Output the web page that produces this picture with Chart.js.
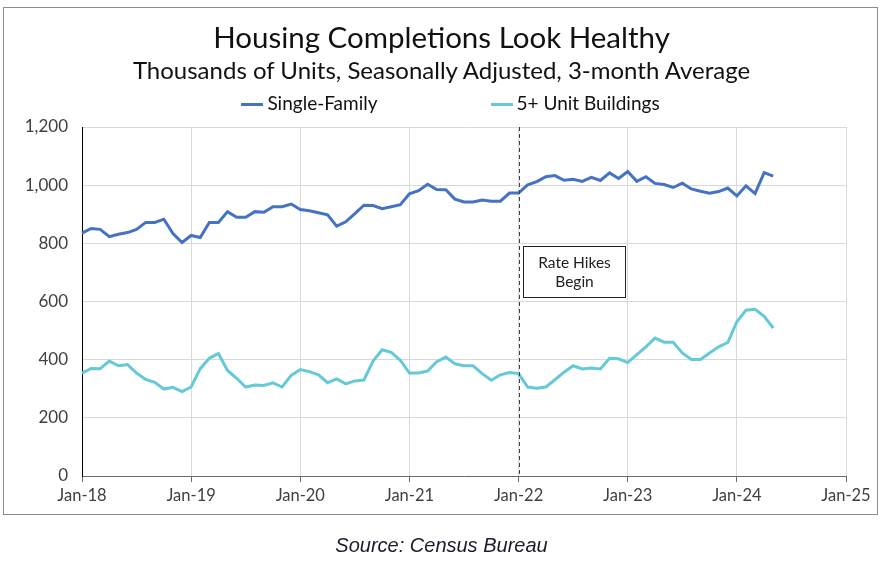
<!DOCTYPE html>
<html>
<head>
<meta charset="utf-8">
<script src="https://cdn.jsdelivr.net/npm/chart.js@4.4.0/dist/chart.umd.min.js"></script>
<style>
  body { margin: 0; background: #fff; }
  #wrap { position: relative; width: 883px; height: 574px; font-family: Lato, sans-serif; }
  #frame { position: absolute; left: 3px; top: 7px; width: 873px; height: 506px; border: 1px solid #8c8c8c; }
  canvas { position: absolute; left: 0; top: 0; }
  .txt { position: absolute; left: 0; width: 883px; text-align: center; color: #111; white-space: nowrap; }
  #title { top: 20px; font-size: 29.5px; line-height: 34px; }
  #subtitle { top: 56px; font-size: 24px; line-height: 28px; }
  #legend { top: 91px; font-size: 19px; line-height: 24px; padding-left: 18px; box-sizing: border-box; }
  .item { display: inline-block; }
  .item + .item { margin-left: 113px; }
  .swatch { display: inline-block; width: 22px; height: 3px; vertical-align: middle; margin-right: 4px; position: relative; top: -1px; }
  #source { top: 534px; font-family: "Liberation Sans", Arial, sans-serif; font-style: italic; font-size: 20px; line-height: 22px; color: #1b1b2b; }
</style>
</head>
<body>
<div id="wrap">
  <div id="frame"></div>
  <canvas id="chart" width="883" height="574"></canvas>
  <div class="txt" id="title">Housing Completions Look Healthy</div>
  <div class="txt" id="subtitle">Thousands of Units, Seasonally Adjusted, 3-month Average</div>
  <div class="txt" id="legend"></div>
  <div class="txt" id="source">Source: Census Bureau</div>
</div>
<script>
const monthNames = ['Jan', 'Feb', 'Mar', 'Apr', 'May', 'Jun', 'Jul', 'Aug', 'Sep', 'Oct', 'Nov', 'Dec'];
const years = ['18', '19', '20', '21', '22', '23', '24', '25'];

// Jan-18 .. May-24, thousands of units
const singleFamily = [835, 851, 848, 823, 831, 837, 848, 872, 872, 883,
    834, 803, 827, 820, 872, 872, 909, 890, 890, 909,
    907, 926, 926, 935, 916, 912, 905, 898, 859, 874,
    902, 931, 930, 919, 926, 933, 970, 981, 1003, 985,
    984, 952, 942, 942, 949, 945, 945, 973, 973, 1001,
    1012, 1029, 1033, 1017, 1020, 1013, 1027, 1016, 1042, 1023,
    1047, 1013, 1029, 1006, 1002, 992, 1007, 987, 979, 972,
    978, 990, 963, 998, 971, 1043, 1031];
const multiFamily = [354, 370, 369, 395, 379, 383, 354, 332, 322, 299,
    305, 290, 306, 369, 405, 421, 363, 336, 306, 313,
    311, 320, 306, 346, 366, 359, 348, 321, 334, 317,
    327, 330, 395, 434, 425, 398, 354, 354, 361, 393,
    409, 386, 379, 379, 352, 329, 348, 356, 352, 306,
    302, 306, 331, 357, 379, 368, 371, 368, 405, 403,
    390, 417, 444, 474, 460, 460, 423, 401, 401, 423,
    444, 459, 530, 570, 573, 549, 509];

const seriesNames = ['Single-Family', '5+ Unit Buildings'];
const seriesColors = ['#4472c4', '#66c9d6'];
const yTicks = [0, 200, 400, 600, 800, 1000, 1200];
const hikeMonth = 'Jan-22';
const hikeText = ['Rate Hikes', 'Begin'];

const labels = [];
years.forEach((y, i) => {
    monthNames.forEach(m => {
        if (i < years.length - 1 || m === 'Jan') labels.push(m + '-' + y);
    });
});

// html legend
const legendDiv = document.getElementById('legend');
seriesNames.forEach((name, i) => {
    const item = document.createElement('span');
    item.className = 'item';
    item.innerHTML = `<span class="swatch" style="background:${seriesColors[i]}"></span>${name}`;
    legendDiv.appendChild(item);
});

const hikePlugin = {
    id: 'hike',
    afterDatasetsDraw(chart) {
        const {ctx, chartArea, scales} = chart;
        const x = Math.round(scales.x.getPixelForValue(labels.indexOf(hikeMonth))) + 0.5;
        ctx.save();
        ctx.strokeStyle = '#404040';
        ctx.lineWidth = 1;
        ctx.setLineDash([4, 3]);
        ctx.beginPath();
        ctx.moveTo(x, chartArea.top);
        ctx.lineTo(x, chartArea.bottom);
        ctx.stroke();
        ctx.setLineDash([]);
        // text box
        const top = Math.round(scales.y.getPixelForValue(792)) + 0.5;
        const bottom = Math.round(scales.y.getPixelForValue(615)) + 0.5;
        const left = x + 4, w = 102;
        ctx.fillStyle = '#fff';
        ctx.fillRect(left, top, w, bottom - top);
        ctx.strokeStyle = '#222';
        ctx.strokeRect(left, top, w, bottom - top);
        ctx.fillStyle = '#222';
        ctx.font = '15.5px Lato';
        ctx.textAlign = 'center';
        ctx.textBaseline = 'middle';
        const mid = (top + bottom) / 2;
        ctx.fillText(hikeText[0], left + w / 2, mid - 9);
        ctx.fillText(hikeText[1], left + w / 2, mid + 10);
        ctx.restore();
    }
};

const isJan = i => labels[i] && labels[i].startsWith('Jan');

new Chart(document.getElementById('chart'), {
    type: 'line',
    data: {
        labels: labels,
        datasets: seriesNames.map((name, i) => ({
            label: name,
            data: i === 0 ? singleFamily : multiFamily,
            borderColor: seriesColors[i],
            backgroundColor: seriesColors[i],
            borderWidth: 3,
            pointRadius: 0,
            tension: 0
        }))
    },
    options: {
        responsive: false,
        animation: false,
        layout: { padding: { top: 127, left: 22, right: 37, bottom: 58 } },
        plugins: {
            legend: { display: false },
            tooltip: { enabled: false }
        },
        scales: {
            x: {
                offset: false,
                afterFit: s => { s.height = 40; },
                border: { color: '#6b6b6b', width: 1 },
                grid: {
                    color: c => isJan(c.index) ? '#d9d9d9' : 'rgba(0,0,0,0)',
                    tickColor: c => isJan(c.index) ? '#6b6b6b' : 'rgba(0,0,0,0)',
                    tickLength: 6
                },
                ticks: {
                    autoSkip: false,
                    maxRotation: 0,
                    padding: 4,
                    color: '#404040',
                    font: { family: 'Lato', size: 16.5 },
                    callback: (v, i) => isJan(i) ? labels[i] : ''
                }
            },
            y: {
                min: 0,
                max: 1200,
                afterFit: s => { s.width = 60; },
                afterBuildTicks: s => { s.ticks = yTicks.map(v => ({ value: v })); },
                border: { color: '#000', width: 1 },
                grid: { color: '#d9d9d9', drawTicks: false },
                ticks: {
                    padding: 14,
                    color: '#404040',
                    font: { family: 'Lato', size: 17 },
                    callback: v => v.toLocaleString('en-US')
                }
            }
        }
    },
    plugins: [hikePlugin]
});
</script>
</body>
</html>
